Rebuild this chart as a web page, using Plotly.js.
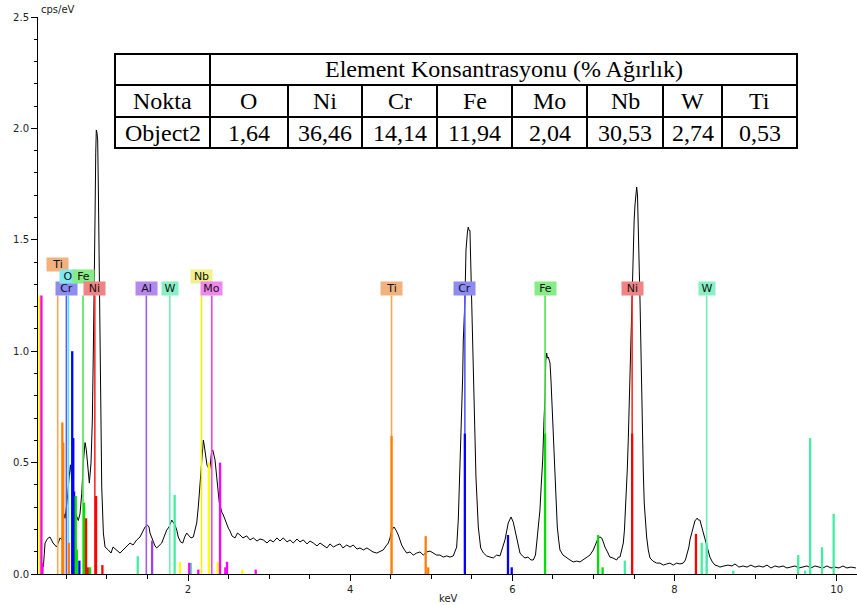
<!DOCTYPE html>
<html><head><meta charset="utf-8">
<script src="https://cdn.plot.ly/plotly-3.0.1.min.js"></script>
<style>html,body{margin:0;padding:0;background:#fff}#chart{width:857px;height:605px}</style>
</head><body><div id="chart"></div>
<script>
// ---------- spectrum (keV, cps/eV) ----------
const specKeV = [0.216,0.237,0.258,0.277,0.298,0.335,0.381,0.422,0.446,0.470,0.484,0.510,0.535,0.550,0.566,0.585,0.605,0.628,0.647,0.668,0.689,0.709,0.730,0.745,0.765,0.783,0.804,0.820,0.832,0.845,0.853,0.862,0.869,0.878,0.886,0.894,0.903,0.915,0.924,0.936,0.956,0.977,
1.017,1.051,1.075,1.121,1.162,1.199,1.244,1.285,1.322,1.367,1.408,1.445,1.470,1.498,1.519,1.531,1.556,1.572,1.593,1.614,1.642,1.676,1.704,1.737,1.766,1.799,1.815,1.840,1.861,1.880,1.908,1.935,1.959,1.984,2.012,2.037,2.065,2.086,2.107,2.127,2.142,2.157,2.169,2.176,2.189,2.198,2.210,2.222,2.234,2.253,2.265,2.277,2.290,2.305,2.321,2.333,2.354,2.370,2.386,2.401,2.416,2.435,2.456,2.477,2.497,2.518,2.542,2.580,2.610,2.641,2.678,2.724,2.764,2.805,2.851,2.888,2.928,2.974,
3.011,3.052,3.097,3.134,3.175,3.221,3.258,3.298,3.344,3.381,3.422,3.467,3.504,3.545,3.591,3.628,3.668,3.714,3.751,3.792,3.837,3.874,3.911,3.957,3.998,4.038,4.084,4.121,4.162,4.207,4.244,4.281,4.327,4.368,4.408,4.442,4.470,4.491,4.512,4.540,4.565,4.593,4.614,4.635,4.663,4.697,4.737,4.778,4.820,4.861,4.901,4.943,4.984,
5.025,5.066,5.107,5.148,5.190,5.231,5.271,5.298,5.313,5.333,5.354,5.375,5.387,5.395,5.407,5.415,5.428,5.436,5.446,5.456,5.467,5.477,5.490,5.506,5.527,5.551,5.580,5.609,5.644,5.683,5.724,5.765,5.806,5.847,5.878,5.909,5.949,5.970,5.983,6.011,6.032,6.053,6.073,6.094,6.124,6.155,6.192,6.229,6.258,6.285,6.300,6.319,6.340,6.356,6.374,6.390,6.402,6.412,6.423,6.433,6.443,6.454,6.464,6.476,6.485,6.494,6.504,6.515,6.525,6.540,6.554,6.571,6.587,6.624,6.670,6.710,6.751,6.793,6.834,6.874,6.916,6.957,6.998,
7.031,7.059,7.080,7.101,7.121,7.142,7.173,7.203,7.240,7.286,7.308,7.327,7.345,7.368,7.382,7.401,7.417,7.429,7.444,7.459,7.471,7.481,7.491,7.502,7.512,7.525,7.533,7.543,7.553,7.565,7.574,7.582,7.592,7.602,7.614,7.626,7.641,7.656,7.676,7.697,7.734,7.779,7.820,7.861,7.903,7.943,7.984,
8.026,8.067,8.107,8.134,8.157,8.177,8.190,8.211,8.231,8.251,8.280,8.295,8.313,8.329,8.346,8.369,8.387,8.411,8.436,8.467,8.498,8.535,8.560,8.609,8.659,8.708,8.745,8.794,8.844,8.893,8.942,8.992,
9.041,9.090,9.140,9.189,9.238,9.288,9.337,9.386,9.436,9.485,9.534,9.584,9.633,9.682,9.732,9.781,9.830,9.879,9.929,9.978,10.027,10.077,10.126,10.175,10.237];
const specCps = [0.031,0.139,0.153,0.162,0.166,0.139,0.121,0.162,0.153,0.270,0.250,0.330,0.440,0.490,0.430,0.390,0.280,0.257,0.240,0.270,0.360,0.500,0.590,0.560,0.480,0.408,0.498,0.691,0.992,1.288,1.589,1.890,1.993,1.979,1.948,1.737,1.441,0.992,0.691,0.390,0.184,0.121,
0.108,0.094,0.121,0.108,0.094,0.108,0.126,0.139,0.130,0.153,0.166,0.197,0.211,0.220,0.211,0.184,0.162,0.144,0.126,0.117,0.126,0.139,0.166,0.197,0.211,0.242,0.233,0.220,0.197,0.166,0.144,0.139,0.166,0.184,0.171,0.162,0.166,0.197,0.229,0.301,0.377,0.435,0.512,0.570,0.601,0.583,0.557,0.512,0.489,0.476,0.467,0.498,0.548,0.557,0.534,0.512,0.435,0.377,0.319,0.301,0.278,0.265,0.242,0.220,0.206,0.193,0.171,0.162,0.184,0.175,0.162,0.171,0.153,0.162,0.148,0.157,0.153,0.139,
0.153,0.144,0.162,0.148,0.162,0.144,0.153,0.139,0.157,0.144,0.153,0.135,0.148,0.139,0.126,0.139,0.130,0.117,0.135,0.121,0.130,0.135,0.117,0.130,0.121,0.130,0.112,0.117,0.108,0.117,0.108,0.099,0.094,0.103,0.108,0.126,0.139,0.162,0.197,0.211,0.197,0.175,0.148,0.130,0.112,0.094,0.099,0.085,0.094,0.099,0.085,0.099,0.103,
0.094,0.085,0.085,0.076,0.081,0.076,0.081,0.108,0.121,0.242,0.467,0.691,0.884,1.050,1.140,1.230,1.454,1.513,1.535,1.557,1.542,1.542,1.333,1.037,0.736,0.435,0.211,0.117,0.094,0.081,0.076,0.072,0.085,0.081,0.117,0.153,0.229,0.247,0.256,0.233,0.197,0.166,0.130,0.094,0.081,0.072,0.076,0.063,0.063,0.085,0.139,0.220,0.287,0.399,0.512,0.691,0.794,0.960,0.992,0.969,0.974,0.960,0.947,0.871,0.794,0.727,0.660,0.557,0.435,0.310,0.211,0.153,0.108,0.085,0.072,0.063,0.054,0.058,0.054,0.063,0.072,0.085,0.108,
0.139,0.162,0.166,0.162,0.144,0.121,0.099,0.076,0.072,0.063,0.076,0.076,0.103,0.139,0.197,0.319,0.467,0.601,0.803,1.019,1.230,1.387,1.513,1.589,1.656,1.724,1.737,1.701,1.589,1.364,1.230,1.064,0.826,0.615,0.467,0.319,0.233,0.166,0.108,0.072,0.058,0.049,0.049,0.040,0.045,0.049,0.040,
0.049,0.045,0.049,0.063,0.094,0.121,0.153,0.184,0.211,0.238,0.251,0.242,0.242,0.215,0.197,0.166,0.139,0.108,0.076,0.054,0.040,0.036,0.031,0.036,0.040,0.036,0.045,0.031,0.036,0.031,0.040,0.031,
0.036,0.031,0.040,0.027,0.036,0.031,0.036,0.027,0.031,0.036,0.027,0.031,0.036,0.027,0.036,0.031,0.027,0.036,0.027,0.031,0.027,0.036,0.027,0.031,0.027];

// ---------- element marker lines (labelled) ----------
const markerElem = ['Ti','Cr','O','Fe','Ni','Al','W','Nb','Mo','Ti','Cr','Fe','Ni','W'];
const markerKeV  = [0.393,0.500,0.525,0.705,0.851,1.486,1.775,2.166,2.293,4.510,5.414,6.403,7.477,8.396];
const markerCps  = [1.25,1.25,1.25,1.25,1.25,1.25,1.25,1.25,1.25,1.25,1.25,1.25,1.25,1.25];

// ---------- element line bars ----------
const barElem = ['Nb','Mo','Mo','Ti','Ti','Ti','Cr','Cr','Cr','Cr','Fe','Fe','Fe','Ni','Ni','Fe','Ni','Ni',
  'W','Al','W','Nb','Mo','W','Mo','Nb','Nb','Mo','Mo','Mo','Nb','Mo',
  'Ti','Ti','Ti','Cr','Cr','Cr','Fe','Fe','Fe','W','Ni','Ni','W','W','W','W','W','W','W','W'];
const barKeV = [0.170,0.192,0.205,0.450,0.462,0.531,0.572,0.585,0.595,0.660,0.615,0.628,0.718,0.743,0.763,0.792,0.866,0.944,
  1.380,1.557,1.835,1.902,2.015,2.035,2.127,2.257,2.367,2.395,2.460,2.481,2.669,2.835,
  4.510,4.931,4.962,5.414,5.946,5.992,6.403,7.057,7.113,7.387,7.477,8.264,8.335,8.396,8.724,9.525,9.610,9.672,9.819,9.962];
const barCps = [1.25,1.25,0.05,0.68,0.59,0.14,1.00,0.61,0.37,0.06,0.35,0.11,0.32,0.25,0.03,0.03,0.35,0.04,
  0.08,0.15,0.355,0.055,0.05,0.05,0.02,0.50,0.055,0.50,0.03,0.055,0.02,0.02,
  0.62,0.17,0.03,0.63,0.175,0.03,0.63,0.175,0.03,0.06,0.63,0.18,0.14,0.14,0.015,0.085,0.015,0.61,0.12,0.27];

// ---------- table ----------
const tableTitle = 'Element Konsantrasyonu (% Ağırlık)';
const tableRowHead = 'Nokta';
const tableSample = 'Object2';
const tableElements = ['O','Ni','Cr','Fe','Mo','Nb','W','Ti'];
const tableValues = ['1,64','36,46','14,14','11,94','2,04','30,53','2,74','0,53'];

// ---------- styles / layout ----------
const style = {
  Ti:{bar:'#ff8000', mark:'#ffa650', label:'#f2b27e'},
  Cr:{bar:'#0000ff', mark:'#5a5aff', label:'#8c8cf2'},
  O: {bar:'#00d8ff', mark:'#55e6f5', label:'#80e8f0'},
  Fe:{bar:'#00e000', mark:'#4ce84c', label:'#86ec86'},
  Ni:{bar:'#ff0000', mark:'#ff2a2a', label:'#f08484'},
  Al:{bar:'#9a40f0', mark:'#a35cf0', label:'#b488f0'},
  W: {bar:'#40f0a0', mark:'#6cf0b8', label:'#88f0c4'},
  Nb:{bar:'#ffff00', mark:'#f0f000', label:'#f0f08c'},
  Mo:{bar:'#ff00ff', mark:'#f040f0', label:'#f088f0'}
};
const markerRow = [3,1,2,2,1,1,1,2,1,1,1,1,1,1];
const rowCps = {1:1.281, 2:1.337, 3:1.391};

const W=857,H=605,ML=38,MR=0,MT=17,MB=31;
const PW=W-ML-MR, PH=H-MT-MB;
const px = x => (x-ML)/PW;
const py = y => (H-MB-y)/PH;
const colEdges=[115,210,288,362,437,512,587,663,722,797];
const rowEdges=[54,85,117,148];

const traces = [];
traces.push({type:'scatter', mode:'lines', x:specKeV, y:specCps,
  line:{color:'#000', width:1}, hoverinfo:'skip', showlegend:false});

function segs(keys, ks, cs){
  const x=[],y=[];
  keys.forEach(i=>{ x.push(ks[i],ks[i],null); y.push(0,cs[i],null); });
  return {x,y};
}
Object.keys(style).forEach(el=>{
  const idx = markerElem.map((e,i)=>e===el?i:-1).filter(i=>i>=0);
  if(idx.length){
    const s=segs(idx,markerKeV,markerCps);
    traces.push({type:'scatter',mode:'lines',x:s.x,y:s.y,line:{color:style[el].mark,width:1.6},hoverinfo:'skip',showlegend:false});
  }
});
Object.keys(style).forEach(el=>{
  const idx = barElem.map((e,i)=>e===el?i:-1).filter(i=>i>=0);
  if(idx.length){
    const s=segs(idx,barKeV,barCps);
    traces.push({type:'scatter',mode:'lines',x:s.x,y:s.y,line:{color:style[el].bar,width:2.3},hoverinfo:'skip',showlegend:false});
  }
});

const annotations = [];
markerElem.forEach((el,i)=>{
  annotations.push({x:markerKeV[i], y:rowCps[markerRow[i]], xref:'x', yref:'y', text:el, showarrow:false,
    xanchor:'center', yanchor:'middle', bgcolor:style[el].label, width: el.length>1?21:16, height:13, borderpad:0,
    font:{family:'DejaVu Sans', size:11, color:'#111'}});
});
annotations.push({xref:'paper',yref:'paper',x:0,y:1,xanchor:'left',yanchor:'bottom',xshift:1,showarrow:false,
  text:'cps/eV',font:{family:'DejaVu Sans',size:10,color:'#222'}});
annotations.push({xref:'paper',yref:'paper',x:px(448),y:py(598),xanchor:'center',yanchor:'middle',showarrow:false,
  text:'keV',font:{family:'DejaVu Sans',size:10,color:'#222'}});

// table
const shapes=[];
const tf={family:'Liberation Serif, Times New Roman, serif', size:24, color:'#000'};
shapes.push({type:'rect',xref:'paper',yref:'paper',x0:px(colEdges[0]),x1:px(colEdges[9]),y0:py(rowEdges[3]),y1:py(rowEdges[0]),
  fillcolor:'#fff',line:{color:'#000',width:2}});
[1,2].forEach(r=>shapes.push({type:'line',xref:'paper',yref:'paper',x0:px(colEdges[0]),x1:px(colEdges[9]),y0:py(rowEdges[r]),y1:py(rowEdges[r]),line:{color:'#000',width:2}}));
shapes.push({type:'line',xref:'paper',yref:'paper',x0:px(colEdges[1]),x1:px(colEdges[1]),y0:py(rowEdges[0]),y1:py(rowEdges[3]),line:{color:'#000',width:2}});
for(let c=2;c<9;c++) shapes.push({type:'line',xref:'paper',yref:'paper',x0:px(colEdges[c]),x1:px(colEdges[c]),y0:py(rowEdges[1]),y1:py(rowEdges[3]),line:{color:'#000',width:2}});
const cell=(c0,c1,r,t)=>annotations.push({xref:'paper',yref:'paper',x:px((colEdges[c0]+colEdges[c1])/2),y:py((rowEdges[r]+rowEdges[r+1])/2),
  xanchor:'center',yanchor:'middle',showarrow:false,text:t,font:tf});
cell(1,9,0,tableTitle);
cell(0,1,1,tableRowHead);
cell(0,1,2,tableSample);
tableElements.forEach((e,i)=>cell(i+1,i+2,1,e));
tableValues.forEach((v,i)=>cell(i+1,i+2,2,v));

const layout = {
  width:W, height:H, margin:{l:ML,r:MR,t:MT,b:MB,pad:0},
  paper_bgcolor:'#fff', plot_bgcolor:'#fff', showlegend:false,
  font:{family:'DejaVu Sans', size:10, color:'#222'},
  xaxis:{range:[0.15,10.25], showgrid:false, zeroline:false, showline:true, linecolor:'#000', linewidth:1,
    ticks:'outside', ticklen:6, tickcolor:'#000', tick0:0, dtick:2, tickfont:{size:10,color:'#222'},
    minor:{dtick:0.5, ticks:'outside', ticklen:4, tickcolor:'#000', showgrid:false}},
  yaxis:{range:[0,2.5], showgrid:false, zeroline:false, showline:true, linecolor:'#000', linewidth:1,
    ticks:'outside', ticklen:6, tickcolor:'#000', tick0:0, dtick:0.5, tickformat:'.1f', tickfont:{size:10,color:'#222'},
    minor:{dtick:0.1, ticks:'outside', ticklen:3, tickcolor:'#000', showgrid:false}},
  shapes, annotations
};
Plotly.newPlot('chart', traces, layout, {staticPlot:true, displayModeBar:false});
</script></body></html>
